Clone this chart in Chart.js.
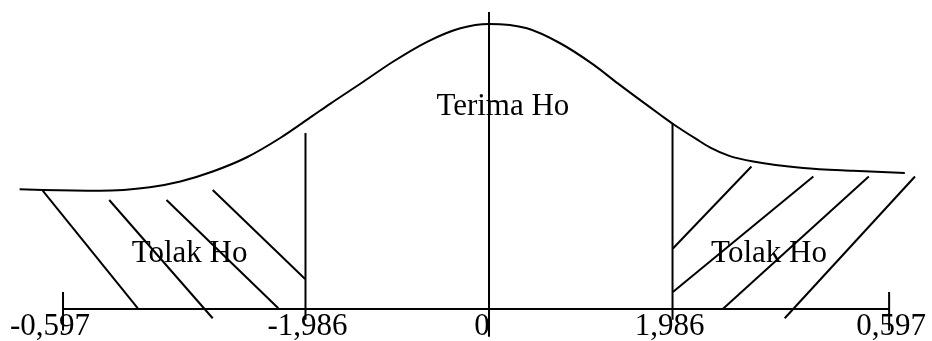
<!DOCTYPE html>
<html>
<head>
<meta charset="utf-8">
<script src="https://cdn.jsdelivr.net/npm/chart.js@4.4.1/dist/chart.umd.min.js"></script>
<style>
  body { margin: 0; background: #fff; }
  canvas { display: block; }
</style>
</head>
<body>
<canvas id="ujiT" width="932" height="341"></canvas>
<script>
// curve (z on x, height on y)
const curveZ = [-5.08, -4.83, -4.21, -3.67, -3.34, -2.99, -2.62, -2.26, -1.91, -1.72, -1.36, -1.04, -0.67, -0.31, 0, 0.41, 0.77, 1.13, 1.39, 1.86, 2.00, 2.25, 2.39, 2.60, 2.86, 3.40, 3.94, 4.50]
const curveY = [0.168, 0.167, 0.166, 0.171, 0.179, 0.193, 0.213, 0.240, 0.271, 0.288, 0.319, 0.347, 0.375, 0.394, 0.400, 0.394, 0.373, 0.343, 0.317, 0.272, 0.259, 0.238, 0.227, 0.215, 0.207, 0.198, 0.194, 0.191]

// axis ticks
const tickValues = [-4.61, -1.986, 0, 1.986, 4.33]
const tickLabels = ['-0,597', '-1,986', '0', '1,986', '0,597']

// critical lines: z, top, bottom
const criticalZ = [-1.986, 0, 1.986]
const criticalTop = [0.247, 0.417, 0.261]
const criticalBottom = [-0.015, -0.039, -0.015]

// hatching of rejection areas [z1, y1, z2, y2]
const leftHatch = [
    [-4.83, 0.166, -3.80, 0.001],
    [-4.11, 0.153, -2.99, -0.013],
    [-3.49, 0.153, -2.28, 0.001],
    [-2.99, 0.167, -1.99, 0.042],
]
const rightHatch = [
    [2.84, 0.200, 1.99, 0.085],
    [3.51, 0.186, 1.99, 0.024],
    [4.11, 0.186, 2.53, 0.000],
    [4.61, 0.186, 3.20, -0.013],
]

// region texts
const regionLabels = ['Tolak Ho', 'Terima Ho', 'Tolak Ho']
const regionLabelZ = [-3.24, 0.15, 3.03]
const regionLabelY = [0.066, 0.272, 0.066]

const lineDs = (points, width) => ({
    data: points,
    showLine: true,
    borderColor: '#000',
    borderWidth: width || 2,
    pointRadius: 0,
    tension: 0,
    clip: false,
})

const seg = (s) => lineDs([{x: s[0], y: s[1]}, {x: s[2], y: s[3]}])

const datasets = []
datasets.push(Object.assign(lineDs(curveZ.map((z, i) => ({x: z, y: curveY[i]}))), {cubicInterpolationMode: 'monotone'}))
datasets.push(lineDs([{x: tickValues[0], y: 0}, {x: tickValues[tickValues.length - 1], y: 0}]))
datasets.push(lineDs([{x: tickValues[0], y: 0.024}, {x: tickValues[0], y: -0.030}]))
datasets.push(lineDs([{x: tickValues[4], y: 0.024}, {x: tickValues[4], y: -0.030}]))
criticalZ.forEach((z, i) => {
    datasets.push(lineDs([{x: z, y: criticalTop[i]}, {x: z, y: criticalBottom[i]}]))
})
leftHatch.forEach(s => datasets.push(seg(s)))
rightHatch.forEach(s => datasets.push(seg(s)))

// label nudges, px
const tickLabelShift = [-13, 2, -7, -3, 2]

const textPlugin = {
    id: 'texts',
    afterDatasetsDraw(chart) {
        const {ctx, scales: {x, y}} = chart
        ctx.save()
        ctx.fillStyle = '#000'
        ctx.font = '31px "Liberation Serif", "Times New Roman", serif'
        ctx.textAlign = 'center'
        ctx.textBaseline = 'alphabetic'
        regionLabels.forEach((t, i) => {
            ctx.fillText(t, x.getPixelForValue(regionLabelZ[i]), y.getPixelForValue(regionLabelY[i]))
        })
        tickLabels.forEach((t, i) => {
            ctx.fillText(t, x.getPixelForValue(tickValues[i]) + tickLabelShift[i], y.getPixelForValue(0) + 26)
        })
        ctx.restore()
    }
}

new Chart(document.getElementById('ujiT').getContext('2d'), {
    type: 'scatter',
    data: {datasets},
    options: {
        responsive: false,
        devicePixelRatio: 1,
        animation: false,
        layout: {padding: 0},
        plugins: {legend: {display: false}, tooltip: {enabled: false}},
        scales: {
            x: {type: 'linear', display: false, min: -5.292, max: 4.794},
            y: {type: 'linear', display: false, min: -0.0449, max: 0.4337},
        },
    },
    plugins: [textPlugin],
})
</script>
</body>
</html>
